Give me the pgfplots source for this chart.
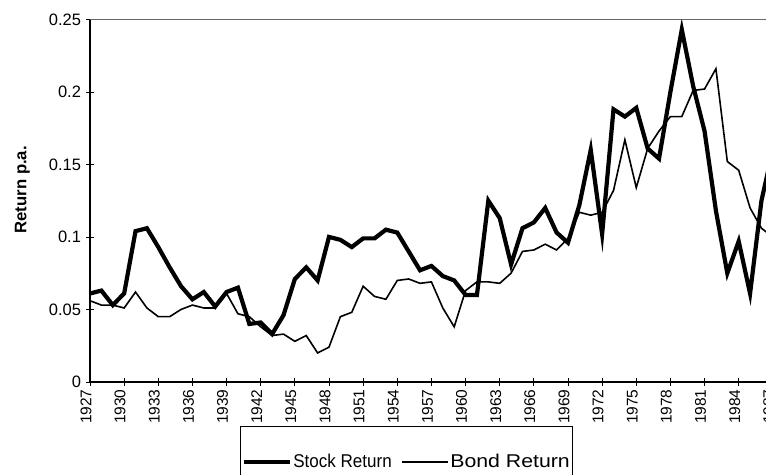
\documentclass[border=0pt]{standalone}
\usepackage{fontspec}
\setmainfont{Liberation Sans}
\usepackage{pgfplots}
\pgfplotsset{compat=1.18}
\usepackage{pgfplotstable}

\pgfplotstableread{
year stock
1927 0.061
1928 0.063
1929 0.053
1930 0.061
1931 0.104
1932 0.106
1933 0.093
1934 0.079
1935 0.066
1936 0.057
1937 0.062
1938 0.052
1939 0.062
1940 0.065
1941 0.040
1942 0.041
1943 0.033
1944 0.046
1945 0.071
1946 0.079
1947 0.070
1948 0.100
1949 0.098
1950 0.093
1951 0.099
1952 0.099
1953 0.105
1954 0.103
1955 0.090
1956 0.077
1957 0.080
1958 0.073
1959 0.070
1960 0.060
1961 0.060
1962 0.125
1963 0.113
1964 0.081
1965 0.106
1966 0.110
1967 0.120
1968 0.103
1969 0.096
1970 0.122
1971 0.160
1972 0.102
1973 0.188
1974 0.183
1975 0.189
1976 0.161
1977 0.154
1978 0.200
1979 0.243
1980 0.204
1981 0.173
1982 0.118
1983 0.075
1984 0.097
1985 0.061
1986 0.125
1987 0.160
}\stocktable

\pgfplotstableread{
year bond
1927 0.056
1928 0.053
1929 0.053
1930 0.051
1931 0.062
1932 0.051
1933 0.045
1934 0.045
1935 0.050
1936 0.053
1937 0.051
1938 0.051
1939 0.061
1940 0.047
1941 0.045
1942 0.038
1943 0.032
1944 0.033
1945 0.028
1946 0.032
1947 0.020
1948 0.024
1949 0.045
1950 0.048
1951 0.066
1952 0.059
1953 0.057
1954 0.070
1955 0.071
1956 0.068
1957 0.069
1958 0.051
1959 0.038
1960 0.063
1961 0.069
1962 0.069
1963 0.068
1964 0.075
1965 0.090
1966 0.091
1967 0.095
1968 0.091
1969 0.099
1970 0.117
1971 0.115
1972 0.117
1973 0.132
1974 0.167
1975 0.134
1976 0.161
1977 0.173
1978 0.183
1979 0.183
1980 0.201
1981 0.202
1982 0.216
1983 0.152
1984 0.146
1985 0.120
1986 0.106
1987 0.100
}\bondtable

\begin{document}
\begin{tikzpicture}
\begin{axis}[
  name=ax,
  scale only axis,
  width=682.8pt, height=362.5pt,
  xmin=1927, xmax=1987,
  ymin=0, ymax=0.25,
  axis x line*=bottom,
  axis y line*=left,
  x axis line style={black, line width=1.3pt},
  y axis line style={black, line width=2pt},
  tick align=center,
  major tick length=8pt,
  minor tick length=8pt,
  tick style={black, line width=0.8pt},
  xtick={1927,1930,...,1987},
  xticklabels={1927,1930,1933,1936,1939,1942,1945,1948,1951,1954,1957,1960,1963,1966,1969,1972,1975,1978,1981,1984,1987},
  minor x tick num=2,
  ytick={0,0.05,0.1,0.15,0.2,0.25},
  yticklabels={0,0.05,0.1,0.15,0.2,0.25},
  xticklabel style={xshift=-4pt, rotate=90, anchor=east, font=\fontsize{15.5}{17}\selectfont},
  yticklabel style={xshift=-1.5pt, font=\fontsize{16.5}{18}\selectfont},
  ylabel={Return p.a.},
  every axis y label/.style={at={(axis description cs:-0.099,0.53)}, rotate=90, anchor=center, font=\fontsize{16.7}{19}\selectfont\bfseries},
  legend columns=2,
  legend image code/.code={\draw[#1, line cap=butt] (0pt,0pt) -- (46pt,0pt);},
  legend style={
    at={(axis description cs:0.4635,-0.121)}, anchor=north,
    draw=black, line width=1pt,
    inner xsep=1pt, inner ysep=26pt,
    font=\fontsize{18.5}{21}\selectfont,
    nodes={inner xsep=1.5pt},
    /tikz/every even column/.append style={column sep=8pt},
  },
]
\addplot[black, line width=4.2pt] table[x=year, y=stock] {\stocktable};
\addlegendentry{\scalebox{0.92}[1]{Stock Return}}
\addplot[black, line width=1.6pt] table[x=year, y=bond] {\bondtable};
\addlegendentry{\scalebox{1.15}[1]{Bond Return}}
\draw[black!60, line width=0.8pt] (rel axis cs:0,1) -- (rel axis cs:1,1);
\coordinate (BL) at (axis cs:1919.09,-0.0641);
\coordinate (TR) at (axis cs:1986.40,0.2634);
\end{axis}
\pgfresetboundingbox
\path[use as bounding box] (BL) rectangle (TR);
\end{tikzpicture}
\end{document}
